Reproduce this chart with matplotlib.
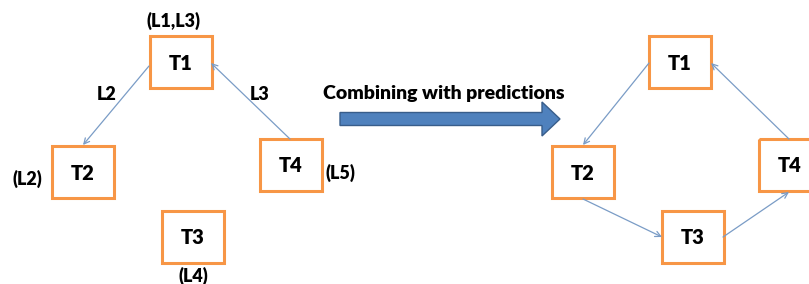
import matplotlib.pyplot as plt
from matplotlib.patches import Rectangle, FancyArrow

# Nodos del diagrama (izquierda y derecha)
tareas = ["T1", "T2", "T3", "T4"]
cajas_izq = {"T1": (150, 36), "T2": (52, 146), "T3": (162, 211), "T4": (260, 139)}
cajas_der = {"T1": (649, 36), "T2": (552, 146), "T3": (662, 211), "T4": (759, 139)}
ancho, alto = 62, 52

# Etiquetas de los nodos y de las aristas
etiquetas_nodo = ["(L1,L3)", "(L2)", "(L4)", "(L5)"]
etiquetas_arista = ["L2", "L3"]
titulo_flecha = "Combining with predictions"

naranja = "#F79646"
azul_linea = "#7A9CC6"
fuente = "Lato"

fig = plt.figure(figsize=(8.09, 2.84), dpi=100)
ax = fig.add_axes([0, 0, 1, 1])
ax.set_xlim(0, 809)
ax.set_ylim(284, 0)
ax.axis("off")


def dibujar_cajas(cajas):
    for t in tareas:
        x, y = cajas[t]
        ax.add_patch(Rectangle((x, y), ancho, alto, fill=False,
                               edgecolor=naranja, linewidth=2.2))
        ax.text(x + ancho / 2, y + alto / 2 + 1, t, ha="center", va="center",
                fontsize=14.5, fontweight="heavy", family=fuente)


def flecha(p0, p1):
    ax.annotate("", xy=p1, xytext=p0,
                arrowprops=dict(arrowstyle="->", color=azul_linea, lw=0.9,
                                shrinkA=0, shrinkB=0, mutation_scale=10))


def texto(x, y, s, tam=13):
    ax.text(x, y, s, ha="center", va="center", fontsize=tam,
            fontweight="heavy", family=fuente)


dibujar_cajas(cajas_izq)
dibujar_cajas(cajas_der)

# Flechas izquierda
flecha((149, 66), (83, 145))
flecha((290, 139), (211, 63))

# Flechas derecha
flecha((649, 63), (583, 145))
flecha((583, 199), (662, 237))
flecha((723, 237), (789, 192))
flecha((789, 139), (711, 63))

# Etiquetas
texto(174, 21, etiquetas_nodo[0])
texto(27, 179, etiquetas_nodo[1])
texto(193, 276, etiquetas_nodo[2])
texto(340, 173, etiquetas_nodo[3])
texto(107, 94, etiquetas_arista[0])
texto(260, 94, etiquetas_arista[1])

# Flecha grande
texto(444, 93, titulo_flecha, tam=14)
ax.add_patch(FancyArrow(340, 119, 220, 0, width=13, head_width=34,
                        head_length=18, length_includes_head=True,
                        facecolor="#4F81BD", edgecolor="#385D8A", linewidth=1))

fig.savefig("out.png", dpi=100)
